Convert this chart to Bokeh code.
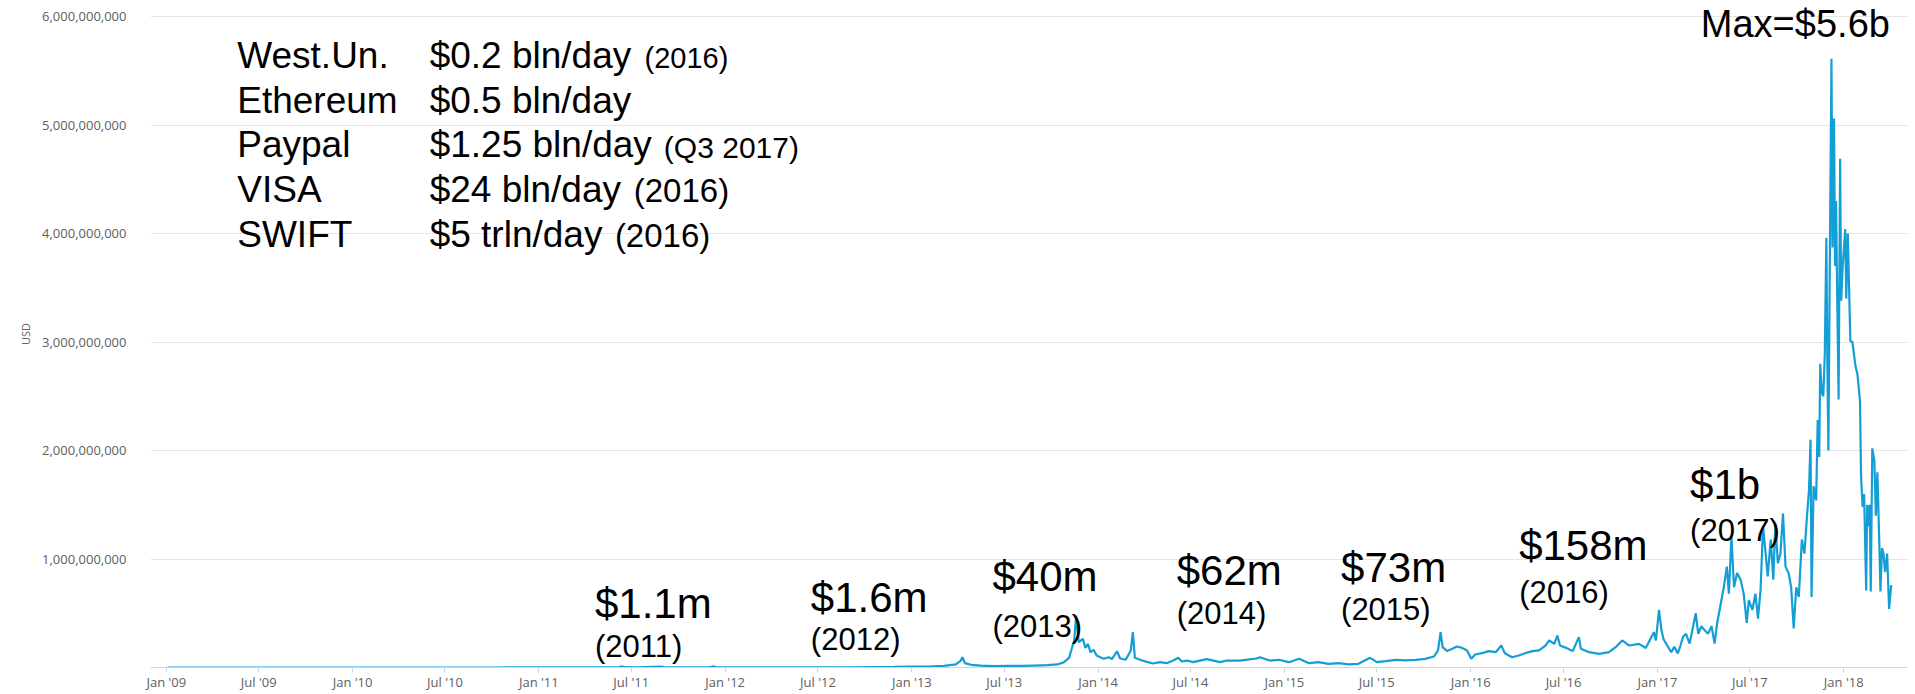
import pandas as pd
from bokeh.plotting import figure
from bokeh.models import (Range1d, FixedTicker, NumeralTickFormatter,
                          DatetimeTickFormatter, Label, ColumnDataSource)
from bokeh.embed import file_html
from bokeh.resources import INLINE

# ---------------- data ----------------
dates = [
    "2009-01-03", "2009-07-01", "2010-01-01", "2010-07-01", "2010-10-01", "2011-01-01",
    "2011-04-01", "2011-06-08", "2011-06-12", "2011-06-16", "2011-07-15", "2011-08-29",
    "2011-09-05", "2011-10-15", "2011-12-01", "2011-12-10", "2011-12-15", "2012-03-01",
    "2012-06-01", "2012-09-01", "2012-11-27",
    "2013-01-01", "2013-02-01", "2013-03-05", "2013-03-28", "2013-04-07", "2013-04-10",
    "2013-04-15", "2013-04-27", "2013-05-16", "2013-06-11", "2013-07-07", "2013-08-02",
    "2013-08-28", "2013-09-23", "2013-10-13", "2013-10-26", "2013-11-05", "2013-11-15",
    "2013-11-19", "2013-11-24", "2013-12-02", "2013-12-07", "2013-12-12", "2013-12-17",
    "2013-12-23", "2013-12-29",
    "2014-01-05", "2014-01-12", "2014-01-22", "2014-01-28", "2014-02-07", "2014-02-13",
    "2014-02-24", "2014-03-06", "2014-03-10", "2014-03-14", "2014-03-24", "2014-04-06",
    "2014-04-19", "2014-05-02", "2014-05-15", "2014-05-28", "2014-06-07", "2014-06-14",
    "2014-06-24", "2014-07-06", "2014-08-02", "2014-08-28", "2014-09-10", "2014-10-06",
    "2014-11-07", "2014-11-14", "2014-12-03", "2014-12-21",
    "2015-01-10", "2015-01-30", "2015-02-18", "2015-03-09", "2015-03-28", "2015-04-17",
    "2015-05-07", "2015-05-26", "2015-06-18", "2015-07-01", "2015-07-18", "2015-08-07",
    "2015-08-26", "2015-09-15", "2015-10-04", "2015-10-21", "2015-10-29", "2015-11-03",
    "2015-11-07", "2015-11-16", "2015-11-26", "2015-12-05", "2015-12-15", "2015-12-25",
    "2016-01-02", "2016-01-10", "2016-01-23", "2016-02-05", "2016-02-19", "2016-03-01",
    "2016-03-08", "2016-03-22", "2016-04-04", "2016-04-17", "2016-05-01", "2016-05-14",
    "2016-05-27", "2016-06-03", "2016-06-13", "2016-06-19", "2016-06-24", "2016-07-06",
    "2016-07-19", "2016-07-31", "2016-08-04", "2016-08-20", "2016-09-09", "2016-09-28",
    "2016-10-11", "2016-10-24", "2016-11-06", "2016-11-26", "2016-12-09", "2016-12-15",
    "2016-12-25", "2016-12-29",
    "2017-01-04", "2017-01-09", "2017-01-13", "2017-01-18", "2017-01-28", "2017-02-03",
    "2017-02-10", "2017-02-15", "2017-02-20", "2017-02-26", "2017-03-05", "2017-03-12",
    "2017-03-17", "2017-03-22", "2017-03-28", "2017-04-04", "2017-04-10", "2017-04-17",
    "2017-04-23", "2017-04-28", "2017-05-04", "2017-05-11", "2017-05-17", "2017-05-21",
    "2017-05-26", "2017-05-31", "2017-06-06", "2017-06-13", "2017-06-19", "2017-06-25",
    "2017-06-29", "2017-07-06", "2017-07-12", "2017-07-17", "2017-07-22", "2017-07-27",
    "2017-08-01", "2017-08-05", "2017-08-11", "2017-08-16", "2017-08-20", "2017-08-25",
    "2017-08-30", "2017-09-04", "2017-09-09", "2017-09-15", "2017-09-20", "2017-09-25",
    "2017-09-30", "2017-10-05", "2017-10-11", "2017-10-16", "2017-10-21", "2017-10-25",
    "2017-10-28", "2017-10-30", "2017-11-03", "2017-11-08", "2017-11-11", "2017-11-14",
    "2017-11-16", "2017-11-19", "2017-11-22", "2017-11-25", "2017-11-28", "2017-11-30",
    "2017-12-02", "2017-12-05", "2017-12-08", "2017-12-10", "2017-12-11", "2017-12-13",
    "2017-12-15", "2017-12-17", "2017-12-19", "2017-12-22", "2017-12-25", "2017-12-27",
    "2017-12-30",
    "2018-01-04", "2018-01-06", "2018-01-09", "2018-01-14", "2018-01-18", "2018-01-24",
    "2018-01-28", "2018-02-02", "2018-02-04", "2018-02-07", "2018-02-10", "2018-02-14",
    "2018-02-16", "2018-02-19", "2018-02-21", "2018-02-23", "2018-02-26", "2018-03-02",
    "2018-03-05", "2018-03-08", "2018-03-12", "2018-03-14", "2018-03-17", "2018-03-20",
    "2018-03-23", "2018-03-27", "2018-03-31", "2018-04-04",
]

# estimated daily transaction value, millions of USD
volume_musd = [
    0, 0, 0.01, 0.05, 0.2, 0.4,
    0.8, 2, 12, 3, 1.5, 8,
    1.2, 0.8, 1.0, 10, 1.5, 1.2,
    1.4, 2.5, 6,
    9, 9, 15, 28, 64, 95,
    40, 25, 18, 12, 15, 15,
    18, 21, 28, 49, 89, 249,
    479, 233, 264, 181, 218, 141,
    163, 110,
    95, 80, 95, 77, 150, 83,
    71, 157, 325, 89, 71, 52,
    37, 49, 40, 64, 89, 55,
    64, 49, 77, 49, 64, 64,
    83, 95, 64, 71,
    49, 80, 40, 49, 34, 40,
    28, 34, 89, 49, 58, 71,
    65, 71, 80, 101, 157, 326,
    187, 151, 172, 194, 181, 157,
    80, 120, 132, 151, 141, 203,
    132, 95, 111, 132, 151, 157,
    203, 249, 218, 295, 203, 181,
    151, 280, 172, 141, 126, 141,
    187, 249, 203, 218, 180, 233,
    326, 250,
    530, 340, 260, 220, 140, 190,
    130, 200, 280, 310, 220, 380,
    500, 310, 380, 340, 310, 380,
    220, 410, 560, 740, 930, 680,
    1210, 740, 870, 810, 680, 410,
    620, 530, 680, 450, 710, 1300,
    1050, 840, 1180, 810, 1330, 960,
    1050, 1420, 930, 870, 740, 360,
    740, 650, 1180, 1050, 1390, 1640,
    2100, 650, 1670, 1540, 2280, 1940,
    2800, 2530, 2500, 2900, 3960, 2780,
    2000, 3870, 5610, 3870, 4800, 5060,
    3700, 4300, 3500, 2470, 4690, 3380,
    3700,
    4040, 3400, 4000, 3010, 3000, 2780,
    2700, 2450, 1760, 1480, 1600, 710,
    1500, 1300, 1500, 700, 2020, 1910,
    1400, 1800, 1100, 700, 1100, 1050,
    880, 1050, 540, 760,
]

x_tick_dates = ["2009-01-01", "2009-07-01", "2010-01-01", "2010-07-01", "2011-01-01",
                "2011-07-01", "2012-01-01", "2012-07-01", "2013-01-01", "2013-07-01",
                "2014-01-01", "2014-07-01", "2015-01-01", "2015-07-01", "2016-01-01",
                "2016-07-01", "2017-01-01", "2017-07-01", "2018-01-01"]
y_ticks = [1e9, 2e9, 3e9, 4e9, 5e9, 6e9]

# yearly averages annotated on the chart
year_labels = ["$1.1m", "$1.6m", "$40m", "$62m", "$73m", "$158m", "$1b"]
year_names = ["(2011)", "(2012)", "(2013)", "(2014)", "(2015)", "(2016)", "(2017)"]
max_label = "Max=$5.6b"

# comparison table
cmp_names = ["West.Un.", "Ethereum", "Paypal", "VISA", "SWIFT"]
cmp_values = ["$0.2 bln/day", "$0.5 bln/day", "$1.25 bln/day", "$24 bln/day", "$5 trln/day"]
cmp_notes = ["(2016)", "", "(Q3 2017)", "(2016)", "(2016)"]

# ---------------- figure ----------------
def ts(s):
    return pd.Timestamp(s)

src = ColumnDataSource(dict(x=pd.to_datetime(dates),
                            y=[v * 1e6 for v in volume_musd]))

Y_MAX = 6e9
PX_TO_VAL = Y_MAX / 651.0          # value per screen pixel
Y_TOP = Y_MAX + 16 * PX_TO_VAL     # leave room above the top gridline

p = figure(width=1915, height=694, x_axis_type="datetime",
           x_range=Range1d(ts("2008-12-01"), ts("2018-05-06")),
           y_range=Range1d(0, Y_TOP),
           output_backend="svg", toolbar_location=None,
           min_border_left=150, min_border_right=8,
           min_border_top=0, min_border_bottom=27)
p.outline_line_color = None
p.background_fill_color = "white"
p.border_fill_color = "white"

p.line("x", "y", source=src, line_color="#139ed6", line_width=2.2)

# axes
p.xaxis.ticker = FixedTicker(ticks=[ts(d).value // 10**6 for d in x_tick_dates])
fmt = "%b '%y"
p.xaxis.formatter = DatetimeTickFormatter(days=fmt, months=fmt, years=fmt,
                                          hours=fmt, minutes=fmt, seconds=fmt)
p.xaxis.axis_line_color = "#ccd6eb"
p.xaxis.major_tick_line_color = "#ccd6eb"
p.xaxis.major_tick_out = 5
p.xaxis.major_tick_in = 0
p.xaxis.minor_tick_line_color = None
p.xaxis.major_label_standoff = 0
p.xaxis.major_label_text_font = "Open Sans"
p.xaxis.major_label_text_font_size = "13px"
p.xaxis.major_label_text_color = "#606060"
p.xgrid.grid_line_color = None

p.yaxis.ticker = FixedTicker(ticks=y_ticks)
p.yaxis.formatter = NumeralTickFormatter(format="0,0")
p.yaxis.axis_line_color = None
p.yaxis.major_tick_line_color = None
p.yaxis.minor_tick_line_color = None
p.yaxis.major_label_standoff = 18
p.yaxis.major_label_text_font = "Open Sans"
p.yaxis.major_label_text_font_size = "13px"
p.yaxis.major_label_text_color = "#606060"
p.yaxis.axis_label = "USD"
p.yaxis.axis_label_text_font = "Open Sans"
p.yaxis.axis_label_text_font_size = "11px"
p.yaxis.axis_label_text_font_style = "normal"
p.yaxis.axis_label_text_color = "#666666"
p.yaxis.axis_label_standoff = 6
p.ygrid.grid_line_color = "#e6e6e6"
p.ygrid.grid_line_width = 1

FONT = "Liberation Sans"

def add_label(text, x, y, size):
    # compensate the renderer's baseline offset (~0.32 em)
    y_adj = y + 0.32 * size * PX_TO_VAL
    p.add_layout(Label(x=ts(x), y=y_adj, text=text, text_font=FONT,
                       text_font_size=f"{size}px", text_color="black",
                       text_baseline="alphabetic", text_align="left"))

# annotation anchors (date, value) for the yearly figures
big_pos = [("2011-04-21", 0.470e9), ("2012-06-17", 0.525e9), ("2013-06-08", 0.719e9),
           ("2014-06-04", 0.774e9), ("2015-04-22", 0.802e9), ("2016-04-05", 1.005e9),
           ("2017-03-06", 1.567e9)]
small_y = [0.100e9, 0.170e9, 0.290e9, 0.405e9, 0.442e9, 0.598e9, 1.170e9]
for (d, yv), t, t2, y2 in zip(big_pos, year_labels, year_names, small_y):
    add_label(t, d, yv, 42)
    add_label(t2, d, y2, 31)

add_label(max_label, "2017-03-27", 5.816e9, 38)

row_y = [5.530e9, 5.121e9, 4.708e9, 4.297e9, 3.886e9]
note_x = ["2011-07-27", None, "2011-09-03", "2011-07-06", "2011-05-30"]
note_size = [29, 0, 30, 33, 33]
for name, val, note, yv, nx, ns in zip(cmp_names, cmp_values, cmp_notes, row_y, note_x, note_size):
    add_label(name, "2009-05-20", yv, 37)
    add_label(val, "2010-06-01", yv, 37)
    if note:
        add_label(note, nx, yv, ns)

open("out.html", "w").write(file_html(p, INLINE))
